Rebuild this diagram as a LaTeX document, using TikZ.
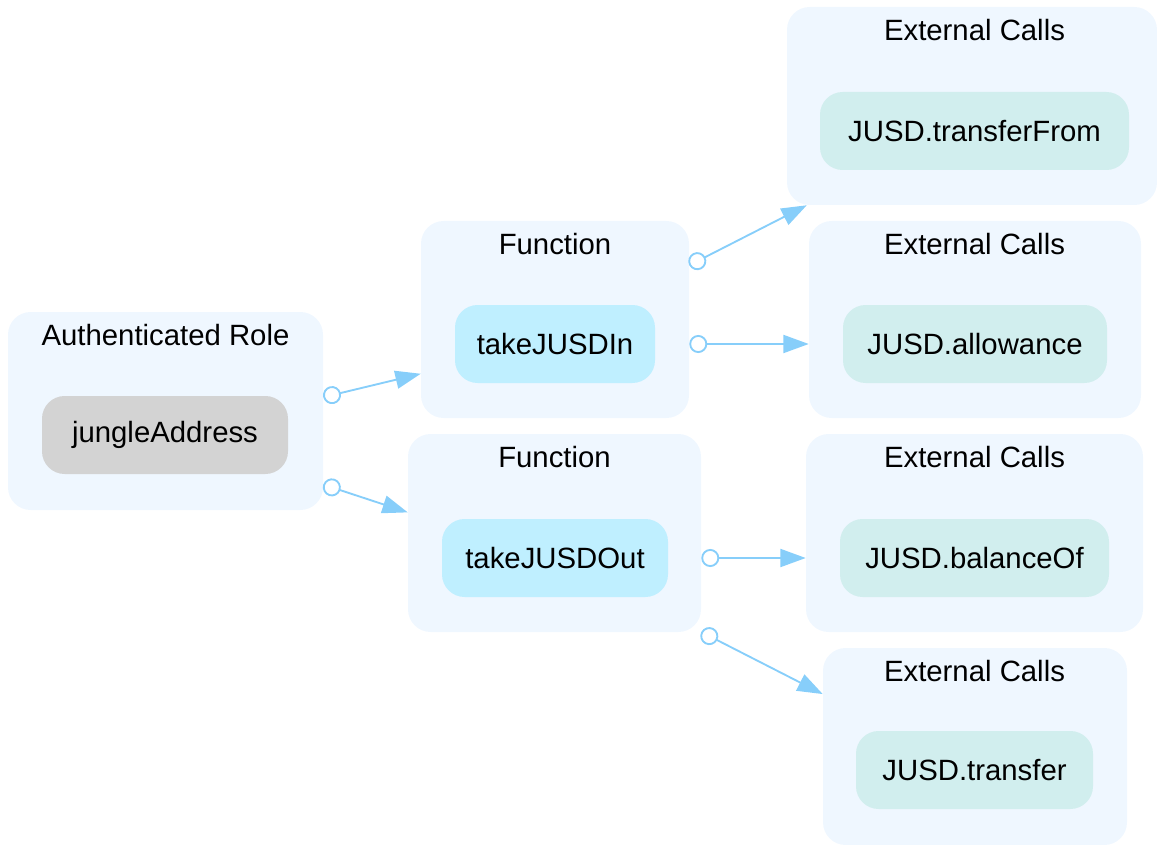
\documentclass[tikz,border=0pt]{standalone}
\usepackage{fontspec}
\setmainfont{Liberation Sans}
\usetikzlibrary{arrows.meta}
\definecolor{clusterbg}{HTML}{EFF7FF}
\definecolor{fncol}{HTML}{BFEFFF}
\definecolor{extcol}{HTML}{D1EEEE}
\definecolor{rolecol}{HTML}{D3D3D3}
\definecolor{edgecol}{HTML}{87CEFA}
\begin{document}
\begin{tikzpicture}[x=0.75pt, y=-0.75pt,
    cluster/.style={fill=clusterbg, rounded corners=17pt, inner sep=0pt},
    box/.style={rounded corners=17pt, inner sep=0pt, minimum height=58.5pt, font=\fontsize{22}{26}\selectfont},
    title/.style={font=\fontsize{22}{26}\selectfont},
    edge/.style={draw=edgecol, line width=1.4pt, {Circle[open, length=13.5pt, width=13.5pt]}-{Triangle[length=19pt, width=13.5pt]}}]
    \useasboundingbox (0,0) rectangle (1157,845);

    % clusters
    \node[cluster, minimum width=236.25pt, minimum height=148.5pt] (role) at (165.5,411) {};
    \node[cluster, minimum width=201pt, minimum height=147.75pt] (fnIn) at (555,319.5) {};
    \node[cluster, minimum width=219.75pt, minimum height=148.5pt] (fnOut) at (554.5,533) {};
    \node[cluster, minimum width=277.5pt, minimum height=148.5pt] (extFrom) at (972,106) {};
    \node[cluster, minimum width=249pt, minimum height=147.75pt] (extAllow) at (975,319.5) {};
    \node[cluster, minimum width=252.75pt, minimum height=148.5pt] (extBal) at (974.5,533) {};
    \node[cluster, minimum width=228pt, minimum height=147.75pt] (extTr) at (975,746.5) {};

    \node[title] (roleTitle) at (165.5,335) {Authenticated Role};
    \node[title] (fnInTitle) at (555,244) {Function};
    \node[title] (fnOutTitle) at (554.5,457) {Function};
    \node[title] (extFromTitle) at (974.5,30) {External Calls};
    \node[title] (extAllowTitle) at (974.5,244) {External Calls};
    \node[title] (extBalTitle) at (974.5,457) {External Calls};
    \node[title] (extTrTitle) at (974.5,671) {External Calls};

    % nodes
    \node[box, fill=rolecol, minimum width=184.5pt] (jungle) at (165,435) {jungleAddress};
    \node[box, fill=fncol, minimum width=150pt] (takeIn) at (555,344) {takeJUSDIn};
    \node[box, fill=fncol, minimum width=169.5pt] (takeOut) at (555,558) {takeJUSDOut};
    \node[box, fill=extcol, minimum width=231.75pt] (transferFrom) at (974.5,131) {JUSD.transferFrom};
    \node[box, fill=extcol, minimum width=198pt] (allowance) at (975,344) {JUSD.allowance};
    \node[box, fill=extcol, minimum width=201.75pt] (balanceOf) at (974.5,558) {JUSD.balanceOf};
    \node[box, fill=extcol, minimum width=177.75pt] (transfer) at (974.5,770) {JUSD.transfer};

    % edges
    \draw[edge] (role.5) -- (fnIn.202);
    \draw[edge] (role.335) -- (fnOut.172);
    \draw[edge] (fnIn.22) -- (extFrom.211);
    \draw[edge] (fnIn.east |- takeIn) -- (extAllow.west |- allowance);
    \draw[edge] (fnOut.east |- takeOut) -- (extBal.west |- balanceOf);
    \draw[edge] (fnOut.326) -- (extTr.161);
\end{tikzpicture}
\end{document}
